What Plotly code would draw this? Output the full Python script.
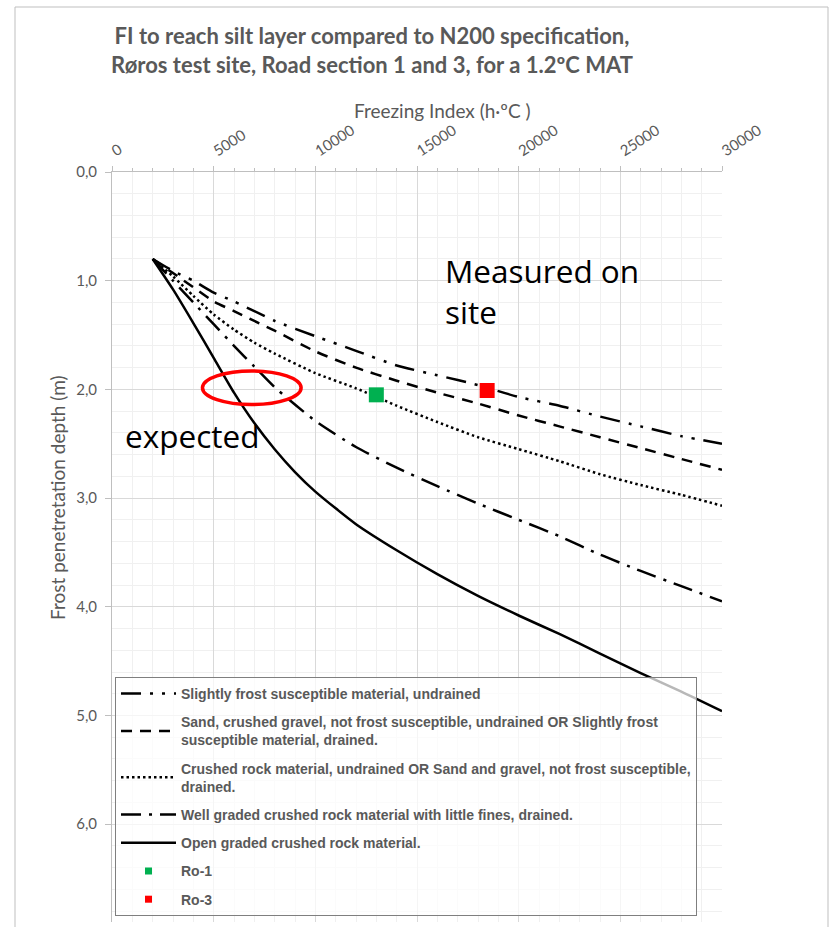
import plotly.graph_objects as go

# ---------------- data ----------------
fi_slight = [2000, 3000, 4000, 5000, 6000, 7000, 8000, 10000, 12000, 14000, 16000, 18000, 20000, 22000, 24000, 26000, 28000, 30000]
d_slight = [0.80, 0.91, 1.00, 1.11, 1.19, 1.28, 1.37, 1.51, 1.645, 1.78, 1.87, 1.96, 2.07, 2.15, 2.25, 2.34, 2.43, 2.50]

fi_sand = [2000, 3000, 4000, 5000, 6000, 7000, 8000, 10000, 12000, 14000, 16000, 18000, 20000, 22000, 24000, 26000, 28000, 30000]
d_sand = [0.80, 0.93, 1.06, 1.19, 1.28, 1.37, 1.46, 1.65, 1.80, 1.92, 2.03, 2.13, 2.24, 2.34, 2.44, 2.54, 2.64, 2.74]

fi_crushed = [2000, 3000, 4000, 5000, 6000, 7000, 8000, 10000, 12000, 14000, 16000, 18000, 20000, 22000, 24000, 26000, 28000, 30000]
d_crushed = [0.80, 0.96, 1.14, 1.31, 1.45, 1.57, 1.67, 1.85, 1.99, 2.15, 2.30, 2.44, 2.55, 2.66, 2.78, 2.88, 2.97, 3.07]

fi_well = [2000, 3000, 4000, 5000, 6000, 7000, 8000, 10000, 12000, 14000, 16000, 18000, 20000, 22000, 24000, 26000, 28000, 30000]
d_well = [0.80, 1.00, 1.20, 1.40, 1.60, 1.79, 1.98, 2.29, 2.53, 2.72, 2.89, 3.05, 3.20, 3.35, 3.52, 3.67, 3.81, 3.95]

fi_open = [2000, 3000, 4000, 5000, 6000, 7000, 8000, 9000, 10000, 12000, 14000, 16000, 18000, 20000, 22000, 24000, 26000, 28000, 30000]
d_open = [0.80, 1.08, 1.39, 1.71, 2.03, 2.31, 2.55, 2.76, 2.94, 3.24, 3.48, 3.70, 3.90, 4.08, 4.25, 4.43, 4.61, 4.78, 4.96]

ro1_fi = [13000]
ro1_depth = [2.05]
ro3_fi = [18450]
ro3_depth = [2.01]

names = [
    "Slightly frost susceptible material, undrained",
    "Sand, crushed gravel, not frost susceptible, undrained OR Slightly frost<br>susceptible material, drained.",
    "Crushed rock material, undrained OR Sand and gravel, not frost susceptible,<br>drained.",
    "Well graded crushed rock material with little fines, drained.",
    "Open graded crushed rock material.",
]

x_ticks = [0, 5000, 10000, 15000, 20000, 25000, 30000]
x_tick_labels = ["0", "5000", "10000", "15000", "20000", "25000", "30000"]
y_ticks = [0, 1, 2, 3, 4, 5, 6]
y_tick_labels = ["0,0", "1,0", "2,0", "3,0", "4,0", "5,0", "6,0"]

# ---------------- figure ----------------
W, H = 830, 927
L, R, T, B = 112, 108, 172, 5
PW, PH = W - L - R, H - T - B

def px_x(p):
    return (p - L) / PW

def px_y(p):
    return (H - B - p) / PH

fig = go.Figure()

dashes = [
    "20px,9px,3px,9px,3px,9px",
    "11px,8px",
    "2.5px,3px",
    "20px,8px,3px,8px",
    "solid",
]
series = [(fi_slight, d_slight), (fi_sand, d_sand), (fi_crushed, d_crushed), (fi_well, d_well), (fi_open, d_open)]

for (xs, ys), nm, ds in zip(series, names, dashes):
    fig.add_trace(go.Scatter(
        x=xs, y=ys, mode="lines", name=nm, legendgroup=nm,
        line=dict(color="black", width=2.5, dash=ds, shape="spline", smoothing=0.6),
    ))

fig.add_trace(go.Scatter(x=ro1_fi, y=ro1_depth, mode="markers", name="Ro-1", showlegend=False,
                         marker=dict(symbol="square", size=15, color="#00b050")))
fig.add_trace(go.Scatter(x=ro3_fi, y=ro3_depth, mode="markers", name="Ro-3", showlegend=False,
                         marker=dict(symbol="square", size=15, color="#ff0000")))
# legend entries with small symbols
fig.add_trace(go.Scatter(x=[None], y=[None], mode="markers", name="Ro-1", legendgroup="Ro-1",
                         marker=dict(symbol="square", size=7, color="#00b050")))
fig.add_trace(go.Scatter(x=[None], y=[None], mode="markers", name="Ro-3", legendgroup="Ro-3",
                         marker=dict(symbol="square", size=7, color="#ff0000")))

grey = "#595959"
fig.update_layout(
    width=W, height=H,
    margin=dict(l=L, r=R, t=T, b=B, autoexpand=False),
    paper_bgcolor="white", plot_bgcolor="white",
    title=dict(
        text="FI to reach silt layer compared to N200 specification,<br>Røros test site, Road section 1 and 3, for a 1.2ºC MAT",
        x=372 / W, xanchor="center", y=1 - 44 / H, yanchor="middle",
        font=dict(family="Lato", size=22, color=grey, weight="bold"),
    ),
    showlegend=True,
    legend=dict(
        x=px_x(115), y=px_y(677), xanchor="left", yanchor="top",
        bgcolor="rgba(255,255,255,0.72)", bordercolor="#7f7f7f", borderwidth=1,
        font=dict(family="Liberation Sans, Arial", size=14, color=grey, weight="bold"),
        tracegroupgap=7, itemwidth=55,
    ),
    xaxis=dict(
        side="top", range=[0, 30000], tickmode="array", tickvals=x_ticks, ticktext=x_tick_labels,
        tickangle=-33, tickfont=dict(family="Lato", size=15, color=grey), ticklabelstandoff=2,
        showgrid=True, gridcolor="#d9d9d9", gridwidth=1,
        showline=True, linecolor="#bfbfbf", linewidth=1,
        ticks="outside", ticklen=5, tickcolor="#bfbfbf",
        minor=dict(dtick=1000, tick0=0, showgrid=True, gridcolor="#f0f0f0", ticks="outside", ticklen=3, tickcolor="#bfbfbf"),
        zeroline=False, fixedrange=True,
    ),
    yaxis=dict(
        range=[(H - B - T) / 108.7, 0], tickmode="array", tickvals=y_ticks, ticktext=y_tick_labels,
        tickfont=dict(family="Lato", size=15, color=grey), ticklabelstandoff=5,
        showgrid=True, gridcolor="#d9d9d9", gridwidth=1,
        showline=True, linecolor="#bfbfbf", linewidth=1,
        ticks="outside", ticklen=6, tickcolor="#bfbfbf",
        minor=dict(dtick=0.2, tick0=0, showgrid=True, gridcolor="#f0f0f0"),
        zeroline=False, fixedrange=True,
    ),
    shapes=[
        dict(type="rect", xref="paper", yref="paper", x0=px_x(15), x1=px_x(828), y0=px_y(935), y1=px_y(7),
             line=dict(color="#bfbfbf", width=1), fillcolor="rgba(0,0,0,0)", layer="below"),
        dict(type="circle", xref="x", yref="y", x0=4450, x1=9300, y0=1.83, y1=2.14,
             line=dict(color="#ff0000", width=3.5)),
    ],
    annotations=[
        dict(text="Freezing Index (h·ºC )", xref="paper", yref="paper", x=px_x(442), y=px_y(110),
             showarrow=False, xanchor="center", yanchor="middle",
             font=dict(family="Lato", size=19, color=grey)),
        dict(text="Frost penetretation depth (m)", xref="paper", yref="paper", x=px_x(57), y=px_y(498),
             showarrow=False, xanchor="center", yanchor="middle", textangle=-90,
             font=dict(family="Lato", size=19, color=grey)),
        dict(text="Measured on<br>site", xref="paper", yref="paper", x=px_x(443), y=px_y(291),
             showarrow=False, xanchor="left", yanchor="middle", align="left",
             font=dict(family="Open Sans", size=31.5, color="black")),
        dict(text="expected", xref="paper", yref="paper", x=px_x(123), y=px_y(435),
             showarrow=False, xanchor="left", yanchor="middle",
             font=dict(family="Open Sans", size=31.5, color="black")),
    ],
)

fig.write_html("out.html", config={"displayModeBar": False},
               post_script="document.body.style.margin='0px';")
